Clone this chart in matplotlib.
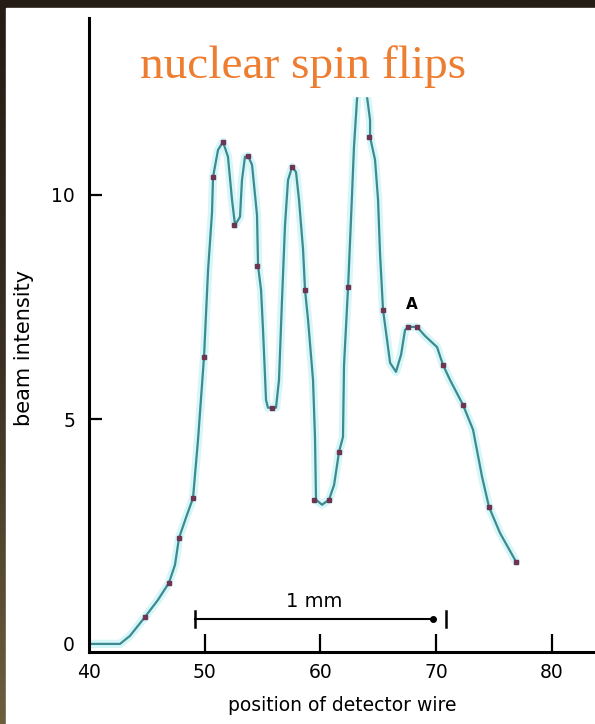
import numpy as np
import matplotlib.pyplot as plt
from matplotlib.patches import Rectangle
from matplotlib.colors import LinearSegmentedColormap

# curve (position of detector wire, beam intensity)
curve_x = [40.0, 42.68, 43.54, 44.84, 45.96, 46.91, 47.43, 47.78, 48.38, 48.99,
           49.42, 49.94, 50.29, 50.63, 50.72, 51.15, 51.58, 52.01, 52.36, 52.62,
           53.05, 53.22, 53.48, 53.74, 54.09, 54.52, 54.61, 54.87, 55.04, 55.30,
           55.47, 56.16, 56.42, 56.68, 56.94, 57.20, 57.55, 57.89, 58.15, 58.50,
           58.67, 58.93, 59.36, 59.53, 59.62, 60.14, 60.74, 61.18, 61.61, 61.95,
           62.04, 62.39, 62.64, 62.90, 63.16, 63.60, 64.03, 64.29, 64.29, 64.72,
           64.98, 65.15, 65.41, 65.76, 66.02, 66.53, 66.97, 67.31, 67.57, 68.35,
           69.04, 70.08, 70.60, 71.20, 72.33, 73.19, 73.97, 74.57, 75.52, 76.91]
curve_y = [0.0, 0.0, 0.18, 0.60, 0.98, 1.36, 1.76, 2.36, 2.81, 3.25,
           4.54, 6.39, 8.33, 9.60, 10.40, 11.00, 11.18, 10.85, 9.89, 9.33,
           9.51, 10.33, 10.85, 10.87, 10.67, 9.55, 8.42, 7.88, 6.99, 5.43,
           5.26, 5.26, 5.88, 7.66, 9.33, 10.33, 10.62, 10.51, 9.89, 8.78,
           7.88, 7.22, 5.88, 4.61, 3.21, 3.10, 3.21, 3.54, 4.28, 4.61,
           6.21, 7.95, 9.44, 11.07, 12.12, 13.0, 12.18, 11.67, 11.29, 10.78,
           9.89, 8.71, 7.44, 6.77, 6.26, 6.06, 6.44, 6.99, 7.06, 7.06,
           6.86, 6.61, 6.21, 5.88, 5.32, 4.77, 3.72, 3.05, 2.47, 1.83]

# measured points (small dark squares)
point_x = [44.84, 46.91, 47.78, 48.99, 49.94, 50.72, 51.58, 52.53, 53.74, 54.52,
           55.82, 57.55, 58.67, 59.45, 60.74, 61.61, 62.39, 64.20, 65.41, 67.57,
           68.35, 70.60, 72.33, 74.57, 76.91]
point_y = [0.60, 1.36, 2.36, 3.25, 6.39, 10.40, 11.18, 9.33, 10.87, 8.42,
           5.26, 10.62, 7.88, 3.21, 3.21, 4.28, 7.95, 11.29, 7.44, 7.06,
           7.06, 6.21, 5.32, 3.05, 1.83]

x_ticks = [40, 50, 60, 70, 80]
y_ticks = [0, 5, 10]

# 1 mm scale bar
bar_start, bar_end, bar_stop, bar_y = 49.16, 69.73, 70.86, 0.55

fig = plt.figure(figsize=(5.95, 7.24), dpi=100)

# dark photo border behind the white slide
bg = fig.add_axes([0, 0, 1, 1], zorder=-10)
grad = np.linspace(0, 1, 256).reshape(-1, 1)
border = LinearSegmentedColormap.from_list('border', ['#6d5e3e', '#3a2f22', '#241c15'])
bg.imshow(grad, aspect='auto', extent=[0, 1, 0, 1], origin='lower', cmap=border)
bg.axis('off')
bg.add_patch(Rectangle((6 / 595, 0), 1, 1 - 8 / 724, color='white', zorder=2))

ax = fig.add_axes([89 / 595, 72 / 724, 1 - 89 / 595, 634 / 724])
ax.patch.set_alpha(0)

ax.plot(curve_x, curve_y, color='#d6f6f8', lw=6, solid_capstyle='round', zorder=1)
ax.plot(curve_x, curve_y, color='#3d8a90', lw=1.6, zorder=2)
ax.plot(point_x, point_y, 's', color='#6e3552', ms=3.5, zorder=3)

ax.set_xlim(40, 83.73)
ax.set_ylim(-0.18, 13.94)
ax.set_xticks(x_ticks)
ax.set_yticks(y_ticks)
ax.tick_params(axis='x', direction='in', length=13, width=1.6, pad=8, labelsize=13.5)
ax.tick_params(axis='y', direction='in', length=9, width=1.6, pad=10, labelsize=13.5)
ax.xaxis.get_major_ticks()[0].tick1line.set_visible(False)
ax.yaxis.get_major_ticks()[0].tick1line.set_visible(False)

for side in ['top', 'right']:
    ax.spines[side].set_visible(False)
for side in ['left', 'bottom']:
    ax.spines[side].set_linewidth(2.2)

ax.set_xlabel('position of detector wire', fontsize=13.5, labelpad=10)
ax.set_ylabel('beam intensity', fontsize=15)
ax.yaxis.set_label_coords(-0.108, 0.48)

# scale bar
ax.plot([bar_start, bar_end], [bar_y, bar_y], color='black', lw=1.5)
ax.plot([bar_start, bar_start], [bar_y - 0.18, bar_y + 0.18], color='black', lw=1.8)
ax.plot(bar_end, bar_y, 'o', color='black', ms=4)
ax.plot([bar_stop, bar_stop], [bar_y - 0.18, bar_y + 0.18], color='black', lw=1.8)
ax.text((bar_start + bar_end) / 2, bar_y + 0.18, '1 mm', ha='center', va='bottom', fontsize=14)

ax.text(67.9, 7.4, 'A', ha='center', va='bottom', fontsize=11, fontweight='bold')

# white title panel covers the top of the tallest peak
fig.add_artist(Rectangle((130 / 595, 1 - 96 / 724), 350 / 595, 76 / 724,
                         color='white', zorder=5, transform=fig.transFigure))
fig.text(303 / 595, 1 - 78 / 724, 'nuclear spin flips', ha='center', va='baseline',
         fontsize=34, color='#ED7D31', family='Liberation Serif', zorder=6)

fig.savefig('out.png', dpi=100)
